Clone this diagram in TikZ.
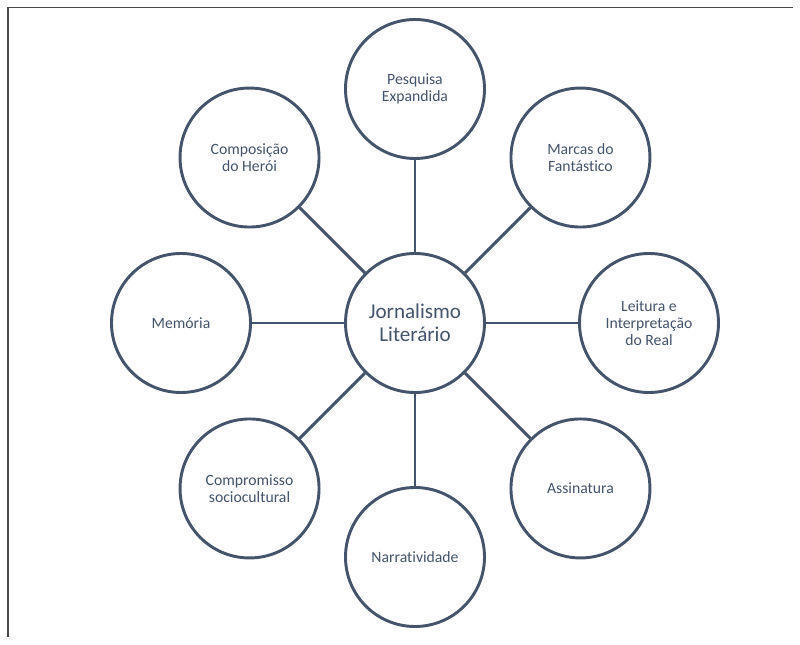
\documentclass[tikz,border=0pt]{standalone}
\usepackage{fontspec}
\setmainfont{Carlito}[Ligatures=NoCommon]
\usepackage{tikz}
\usetikzlibrary{calc}
\definecolor{slate}{HTML}{44546A}
\tikzset{
  topic/.style={circle,draw=slate,line width=2.5pt,minimum size=4.17cm,inner sep=0pt,align=center,text=slate,font=\fontsize{13.4}{14.6}\selectfont},
  hub/.style={topic,font=\fontsize{18}{20}\selectfont},
  spoke/.style={draw=slate,line width=2.5pt}
}

\begin{document}
\begin{tikzpicture}
    \useasboundingbox (-12.45,-9.63) rectangle (11.55,9.69);
    \draw [gray!55!black, line width=1pt] (11.34,9.465) -- (-12.21,9.465) -- (-12.21,-9.42);

    \node [hub] (JL) at (0,0) {Jornalismo\\Literário};

    \node [topic] (PE) at (90:7.02) {Pesquisa\\Expandida};
    \node [topic] (MF) at (45:7.02) {Marcas do\\Fantástico};
    \node [topic] (LI) at (0:7.02) {Leitura e\\Interpretação\\do Real};
    \node [topic] (AS) at (-45:7.02) {Assinatura};
    \node [topic] (NA) at (-90:7.02) {Narratividade};
    \node [topic] (CS) at (-135:7.02) {Compromisso\\sociocultural};
    \node [topic] (ME) at (180:7.02) {Memória};
    \node [topic] (CH) at (135:7.02) {Composição\\do Herói};

    \foreach \n in {PE,MF,LI,AS,NA,CS,ME,CH}
      \draw [spoke] (JL) -- (\n);
\end{tikzpicture}
\end{document}
